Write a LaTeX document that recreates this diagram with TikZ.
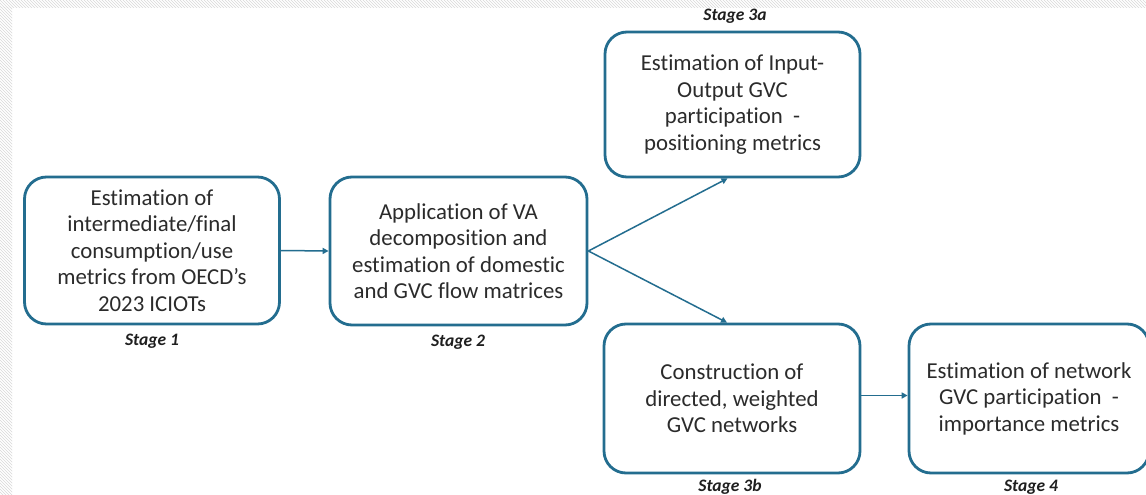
\documentclass[tikz,border=0pt]{standalone}
\usepackage{fontspec}
\setmainfont{Carlito}[Ligatures=NoCommon]
\usetikzlibrary{arrows.meta,patterns}
\definecolor{edge}{HTML}{236D8F}
\definecolor{txt}{HTML}{2B2B2B}
\begin{document}
\begin{tikzpicture}[x=1pt,y=-1pt,
  stagebox/.style={draw=edge,line width=2.8pt,rounded corners=22pt,fill=white,
    align=center,text=txt,font=\fontsize{22.8}{26.5}\selectfont,inner sep=0pt},
  stagelabel/.style={font=\fontsize{17.5}{18}\selectfont\bfseries\itshape,text=black!88},
  flow/.style={draw=edge,line width=1.5pt,-{Triangle[length=6pt,width=6pt]}}]
\useasboundingbox (0,0) rectangle (1146,495);
\fill[white] (0,0) rectangle (1146,495);
\fill[pattern=north west lines,pattern color=black!15] (0,0) rectangle (1146,8);
\fill[pattern=north west lines,pattern color=black!15] (0,8) rectangle (12,495);
% boxes
\node[stagebox,minimum width=255pt,minimum height=147pt] (b1) at (152,250.5)
  {Estimation of\\intermediate/final\\consumption/use\\metrics from OECD’s\\2023 ICIOTs};
\node[stagebox,minimum width=257pt,minimum height=148pt] (b2) at (458.5,251)
  {Application of VA\\decomposition and\\estimation of domestic\\and GVC flow matrices};
\node[stagebox,minimum width=255pt,minimum height=145pt] (b3a) at (732.5,104.5)
  {Estimation of Input-\\Output GVC\\participation\ \ -\\positioning metrics};
\node[stagebox,minimum width=256pt,minimum height=149pt] (b3b) at (732,398.5)
  {Construction of\\directed, weighted\\GVC networks};
\node[stagebox,minimum width=240pt,minimum height=149pt] (b4) at (1029,398.5)
  {Estimation of network\\GVC participation\ \ -\\importance metrics};
% labels
\node[stagelabel] (l1) at (152,341) {Stage 1};
\node[stagelabel] (l2) at (458,342) {Stage 2};
\node[stagelabel] (l3a) at (735,16) {Stage 3a};
\node[stagelabel] (l3b) at (730,487) {Stage 3b};
\node[stagelabel] (l4) at (1031,487) {Stage 4};
% connectors
\draw[flow] (b1.east) -- (b2.west);
\draw[flow] (b2.east) -- ([xshift=-5pt]b3a.south);
\draw[flow] (b2.east) -- ([xshift=-5pt]b3b.north);
\draw[flow] ([yshift=3pt]b3b.east) -- ([yshift=3pt]b4.west);
\end{tikzpicture}
\end{document}
